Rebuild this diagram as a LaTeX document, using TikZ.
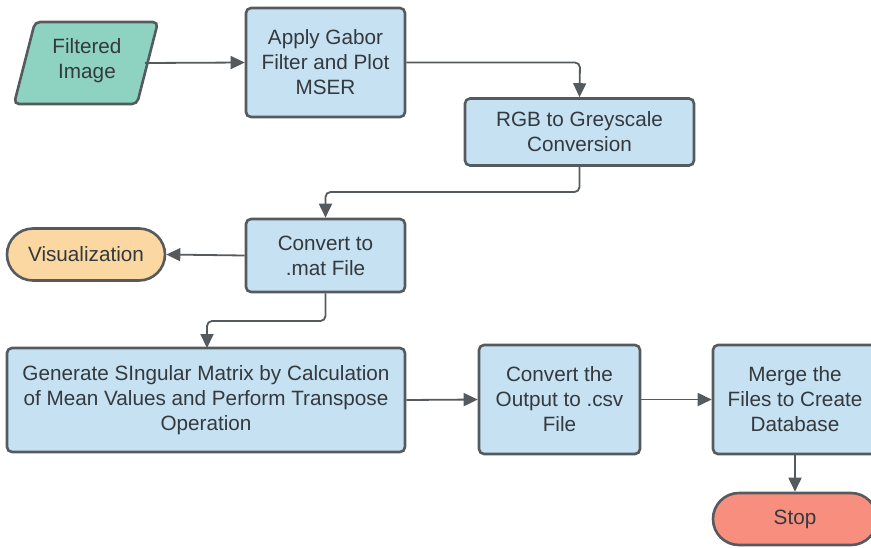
\documentclass[tikz,border=0pt]{standalone}
\usepackage{fontspec}
\setmainfont{Liberation Sans}
\usetikzlibrary{shapes.geometric,arrows.meta}
\definecolor{boxblue}{HTML}{C6E1F2}
\definecolor{boxgreen}{HTML}{8ED3C1}
\definecolor{boxorange}{HTML}{FBD7A2}
\definecolor{boxred}{HTML}{F88E7E}
\definecolor{edge}{HTML}{555A5E}
\definecolor{txt}{HTML}{33393D}
\begin{document}
\begin{tikzpicture}[x=1pt,y=-1pt,
  font=\fontsize{20.7}{25}\selectfont, text=txt,
  proc/.style={draw=edge, line width=2.6pt, fill=boxblue, rounded corners=5pt, align=center, inner sep=0pt},
  conn/.style={draw=edge, line width=1.8pt, rounded corners=5pt, -{Triangle[length=14pt,width=13pt]}}
]
\useasboundingbox (0,0) rectangle (871,547);
\begin{scope}
\clip (0,0) rectangle (871,547);
% Filtered image parallelogram
\draw[draw=edge, line width=2.6pt, fill=boxgreen, rounded corners=5pt] (35,22) -- (158,22) -- (137,104) -- (14,104) -- cycle;
\node[align=center, text=txt] (fi) at (87,61) {Filtered\\Image};
\coordinate (fiout) at (145,63);

\node[proc, minimum width=159pt, minimum height=109pt] (gab) at (325.5,62.5) {Apply Gabor\\Filter and Plot\\MSER};
\node[proc, minimum width=229pt, minimum height=67pt] (rgb) at (579.5,132) {RGB to Greyscale\\Conversion};
\node[proc, minimum width=159pt, minimum height=73pt] (mat) at (325.5,255.5) {Convert to\\.mat File};
\node[draw=edge, line width=2.6pt, fill=boxorange, rounded corners=26pt, minimum width=158pt, minimum height=52pt, inner sep=0pt] (vis) at (86,254.5) {Visualization};
\node[proc, minimum width=398pt, minimum height=104pt] (gen) at (206,400) {Generate SIngular Matrix by Calculation\\of Mean Values and Perform Transpose\\Operation};
\node[proc, minimum width=161pt, minimum height=109pt] (csv) at (559.5,399.5) {Convert the\\Output to .csv\\File};
\node[proc, minimum width=164pt, minimum height=109pt] (mer) at (795,399.5) {Merge the\\Files to Create\\Database};
\node[draw=edge, line width=2.6pt, fill=boxred, rounded corners=26pt, minimum width=164pt, minimum height=52pt, inner sep=0pt] (stop) at (795,519) {Stop};

\draw[conn] (fiout) -- (gab.west);
\draw[conn] (gab.east) -- (580,62.5) -- (rgb.north);
\draw[conn] (rgb.south) -- (579.5,192) -- (325.5,192) -- (mat.north);
\draw[conn] (mat.west) -- (vis.east);
\draw[conn] (mat.south) -- (325.5,321) -- (207,321) -- (207,348);
\draw[conn] (gen.east) -- (csv.west);
\draw[conn] (csv.east) -- (mer.west);
\draw[conn] (mer.south) -- (stop.north);
\end{scope}
\end{tikzpicture}
\end{document}
